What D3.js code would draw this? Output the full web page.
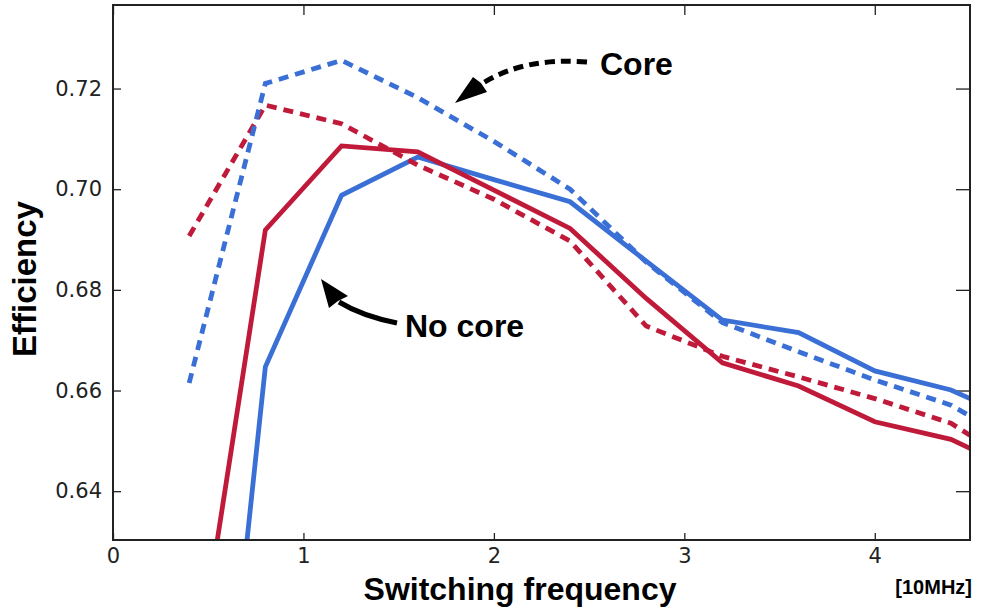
<!DOCTYPE html>
<html>
<head>
<meta charset="utf-8">
<script src="https://cdn.jsdelivr.net/npm/d3@7"></script>
<style>
  html, body { margin: 0; padding: 0; background: #fff; }
  svg { display: block; }
</style>
</head>
<body>
<svg id="chart" width="985" height="616"></svg>
<script>
// Switching frequency in units of 10 MHz
const freq = [0.4, 0.8, 1.2, 1.6, 2.0, 2.4, 2.8, 3.2, 3.6, 4.0, 4.4, 4.5];

// Efficiency with a magnetic core (dashed)
const coreBlue = [0.6615, 0.7210, 0.7256, 0.7182, 0.7095, 0.7000, 0.6855, 0.6735, 0.6677, 0.6621, 0.6571, 0.6549];
const coreRed  = [0.6907, 0.7167, 0.7130, 0.7048, 0.6980, 0.6897, 0.6728, 0.6668, 0.6627, 0.6584, 0.6535, 0.6511];

// Efficiency without a core (solid)
const noCoreBlue = [0.5217, 0.6647, 0.6988, 0.7064, 0.7019, 0.6975, 0.6857, 0.6740, 0.6715, 0.6639, 0.6601, 0.6584];
const noCoreRed  = [0.5942, 0.6919, 0.7086, 0.7074, 0.6998, 0.6922, 0.6783, 0.6655, 0.6609, 0.6538, 0.6503, 0.6485];

const xTicks = [0, 1, 2, 3, 4];
const yTicks = [0.64, 0.66, 0.68, 0.70, 0.72];

const RED = "#c01a3a";
const BLUE = "#3a6fd6";

const svg = d3.select("#chart");
const plotLeft = 113, plotRight = 970, plotTop = 5, plotBottom = 540;

const x = d3.scaleLinear().domain([0, 4.5]).range([plotLeft, plotRight]);
const y = d3.scaleLinear().domain([0.6303, 0.7366]).range([plotBottom, plotTop]);

svg.append("defs").append("clipPath").attr("id", "plotClip")
  .append("rect").attr("x", plotLeft).attr("y", plotTop)
  .attr("width", plotRight - plotLeft).attr("height", plotBottom - plotTop);

// Axes with inward ticks on all four sides
const tickFont = "'DejaVu Sans', sans-serif";
function styleAxis(g) {
  g.select(".domain").remove();
  g.selectAll(".tick line").attr("stroke", "#222").attr("stroke-width", 1.3);
  g.selectAll(".tick text").attr("fill", "#222").style("font-family", tickFont).style("font-size", "21px");
}

svg.append("g").attr("transform", `translate(${plotLeft},0)`)
  .call(d3.axisLeft(y).tickValues(yTicks).tickSize(-8).tickPadding(11).tickFormat(d3.format(".2f")))
  .call(styleAxis);
svg.append("g").attr("transform", `translate(${plotRight},0)`)
  .call(d3.axisRight(y).tickValues(yTicks).tickSize(-14).tickFormat(""))
  .call(styleAxis);
svg.append("g").attr("transform", `translate(0,${plotBottom})`)
  .call(d3.axisBottom(x).tickValues(xTicks).tickSize(-7).tickPadding(8).tickFormat(d3.format("d")))
  .call(styleAxis);
svg.append("g").attr("transform", `translate(0,${plotTop})`)
  .call(d3.axisTop(x).tickValues(xTicks).tickSize(-10).tickFormat(""))
  .call(styleAxis);

// Series
const line = d3.line().x(d => x(d[0])).y(d => y(d[1]));
const plot = svg.append("g").attr("clip-path", "url(#plotClip)");
const series = [
  { values: noCoreBlue, color: BLUE, dash: null },
  { values: noCoreRed,  color: RED,  dash: null },
  { values: coreRed,    color: RED,  dash: "10,7" },
  { values: coreBlue,   color: BLUE, dash: "10,7" }
];
series.forEach(s => {
  plot.append("path")
    .datum(freq.map((f, i) => [f, s.values[i]]))
    .attr("d", line)
    .attr("fill", "none")
    .attr("stroke", s.color)
    .attr("stroke-width", 4.8)
    .attr("stroke-dasharray", s.dash)
    .attr("stroke-linejoin", "miter");
});

// Frame
svg.append("rect").attr("x", plotLeft).attr("y", plotTop)
  .attr("width", plotRight - plotLeft).attr("height", plotBottom - plotTop)
  .attr("fill", "none").attr("stroke", "#222").attr("stroke-width", 2);

// Annotations
const boldFont = "'Liberation Sans', Arial, Helvetica, sans-serif";
svg.append("path")
  .attr("d", "M587,62 Q525,57 483,83")
  .attr("fill", "none").attr("stroke", "#000").attr("stroke-width", 5)
  .attr("stroke-dasharray", "10,6");
svg.append("path")
  .attr("d", "M455,103 L473,77 L481,83 L487,92 Z")
  .attr("fill", "#000");
svg.append("text").attr("x", 600).attr("y", 75)
  .style("font-family", boldFont).style("font-weight", "bold").style("font-size", "32px")
  .text("Core");

svg.append("path")
  .attr("d", "M397,323 Q362,316 339,302")
  .attr("fill", "none").attr("stroke", "#000").attr("stroke-width", 5);
svg.append("path")
  .attr("d", "M321,279 L348,296 L338,301 L329,308 Z")
  .attr("fill", "#000");
svg.append("text").attr("x", 405).attr("y", 337)
  .style("font-family", boldFont).style("font-weight", "bold").style("font-size", "32px")
  .text("No core");

// Axis titles
svg.append("text")
  .attr("transform", "translate(36,279) rotate(-90)")
  .attr("text-anchor", "middle")
  .style("font-family", boldFont).style("font-weight", "bold").style("font-size", "33px")
  .text("Efficiency");
svg.append("text").attr("x", 520).attr("y", 600).attr("text-anchor", "middle")
  .style("font-family", boldFont).style("font-weight", "bold").style("font-size", "32px")
  .text("Switching frequency");
svg.append("text").attr("x", 972).attr("y", 594).attr("text-anchor", "end")
  .style("font-family", boldFont).style("font-weight", "bold").style("font-size", "20px")
  .text("[10MHz]");
</script>
</body>
</html>
